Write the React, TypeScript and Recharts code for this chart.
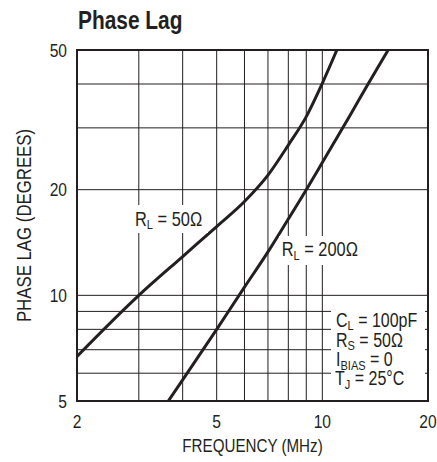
import React from 'react';
import { LineChart, Line, XAxis, YAxis, ReferenceLine, ReferenceArea } from 'recharts';

// Axis ticks and grid
const X_TICKS = [2, 5, 10, 20];
const Y_TICKS = [5, 10, 20, 50];
const X_GRID = [3, 4, 5, 6, 7, 8, 9, 10];
const Y_GRID = [6, 7, 8, 9, 10, 20, 30, 40];

// R_L = 50 Ohm curve
const FREQ_RL50 = [2, 3, 4, 5, 6, 7, 8, 9, 10, 11];
const LAG_RL50 = [6.7, 10, 12.9, 15.7, 18.5, 22, 26.8, 32.3, 40.2, 50];

// R_L = 200 Ohm curve
const FREQ_RL200 = [3.64, 4, 5, 6, 7, 8, 9, 10, 12, 13.5, 15.4];
const LAG_RL200 = [5, 5.74, 8.0, 10.55, 13.3, 16.5, 20, 23.9, 32.6, 40, 50];

const rl50 = FREQ_RL50.map((f, i) => ({ f, v: LAG_RL50[i] }));
const rl200 = FREQ_RL200.map((f, i) => ({ f, v: LAG_RL200[i] }));

const FONT = "'Liberation Sans', Arial, sans-serif";
const SQ = 0.82; // horizontal condensing of the Helvetica-like face
const INK = '#231f20';

type NTextProps = {
  x: number;
  y: number;
  size: number;
  bold?: boolean;
  anchor?: 'start' | 'middle' | 'end';
  rotate?: number;
  children?: React.ReactNode;
};

function NText({ x, y, size, bold, anchor = 'start', rotate = 0, children }: NTextProps) {
  return (
    <text
      transform={`translate(${x},${y}) rotate(${rotate}) scale(${SQ},1)`}
      fontSize={size}
      fontWeight={bold ? 'bold' : 'normal'}
      fontFamily={FONT}
      fill={INK}
      textAnchor={anchor}
    >
      {children}
    </text>
  );
}

function XTick(props: any) {
  const { x, y, payload } = props;
  return <NText x={x} y={y + 13.5} size={19} anchor="middle">{String(payload.value)}</NText>;
}

function YTick(props: any) {
  const { x, y, payload } = props;
  return <NText x={x} y={y + 6.8} size={19} anchor="end">{String(payload.value)}</NText>;
}

function XTitle(props: any) {
  const vb = props.viewBox || { x: 77, y: 401, width: 351, height: 61 };
  return (
    <NText x={vb.x + vb.width / 2} y={vb.y + vb.height - 10.3} size={18.5} anchor="middle">
      FREQUENCY (MHz)
    </NText>
  );
}

function YTitle(props: any) {
  const vb = props.viewBox || { x: 0, y: 50, width: 77, height: 351 };
  return (
    <text
      transform={`translate(${vb.x + 23.5},${vb.y + vb.height / 2}) rotate(-90) scale(${SQ},1)`}
      fontSize={20.5}
      fontFamily={FONT}
      fill={INK}
      textAnchor="middle"
      dy={7.3}
    >
      PHASE LAG (DEGREES)
    </text>
  );
}

function Sub({ main, sub, rest }: { main: string; sub: string; rest: string }) {
  return (
    <>
      {main}
      <tspan fontSize={13.5} dy={3.5}>{sub}</tspan>
      <tspan dy={-3.5}>{rest}</tspan>
    </>
  );
}

export default function App() {
  return (
    <div style={{ position: 'absolute', left: 0, top: 0, width: 437, height: 462, background: '#fff' }}>
      <LineChart width={437} height={462} margin={{ top: 50, right: 9, bottom: 0, left: 0 }}>
        <XAxis
          type="number"
          dataKey="f"
          scale="log"
          domain={[2, 20]}
          ticks={X_TICKS}
          allowDataOverflow
          axisLine={false}
          tickLine={false}
          tickSize={0}
          tickMargin={13}
          height={61}
          interval={0}
          tick={<XTick />}
          label={<XTitle />}
        />
        <YAxis
          type="number"
          dataKey="v"
          scale="log"
          domain={[5, 50]}
          ticks={Y_TICKS}
          allowDataOverflow
          axisLine={false}
          tickLine={false}
          tickSize={0}
          tickMargin={10}
          width={77}
          interval={0}
          tick={<YTick />}
          label={<YTitle />}
        />
        {X_GRID.map((x) => (
          <ReferenceLine key={'gx' + x} x={x} stroke={INK} strokeWidth={1} />
        ))}
        {Y_GRID.map((y) => (
          <ReferenceLine key={'gy' + y} y={y} stroke={INK} strokeWidth={1} />
        ))}
        <ReferenceArea x1={2} x2={20} y1={5} y2={50} fill="none" fillOpacity={0} stroke={INK} strokeWidth={2} />
        <Line data={rl50} dataKey="v" type="monotone" stroke={INK} strokeWidth={3} dot={false} isAnimationActive={false} />
        <Line data={rl200} dataKey="v" type="monotone" stroke={INK} strokeWidth={3} dot={false} isAnimationActive={false} />
      </LineChart>
      <svg width={437} height={462} style={{ position: 'absolute', left: 0, top: 0, pointerEvents: 'none' }}>
        <NText x={78} y={28.5} size={25.5} bold>Phase Lag</NText>

        <rect x={132} y={205} width={76} height={28} fill="#fff" />
        <NText x={135} y={225.7} size={20}><Sub main="R" sub="L" rest=" = 50Ω" /></NText>

        <rect x={279} y={236} width={85} height={29} fill="#fff" />
        <NText x={281.7} y={256} size={20}><Sub main="R" sub="L" rest=" = 200Ω" /></NText>

        <rect x={331} y={305} width={94} height={88} fill="#fff" />
        <NText x={336} y={326.7} size={19.5}><Sub main="C" sub="L" rest=" = 100pF" /></NText>
        <NText x={336} y={346.7} size={19.5}><Sub main="R" sub="S" rest=" = 50Ω" /></NText>
        <NText x={336} y={366.3} size={19.5}><Sub main="I" sub="BIAS" rest=" = 0" /></NText>
        <NText x={335} y={385} size={19.5}><Sub main="T" sub="J" rest=" = 25°C" /></NText>
      </svg>
    </div>
  );
}
